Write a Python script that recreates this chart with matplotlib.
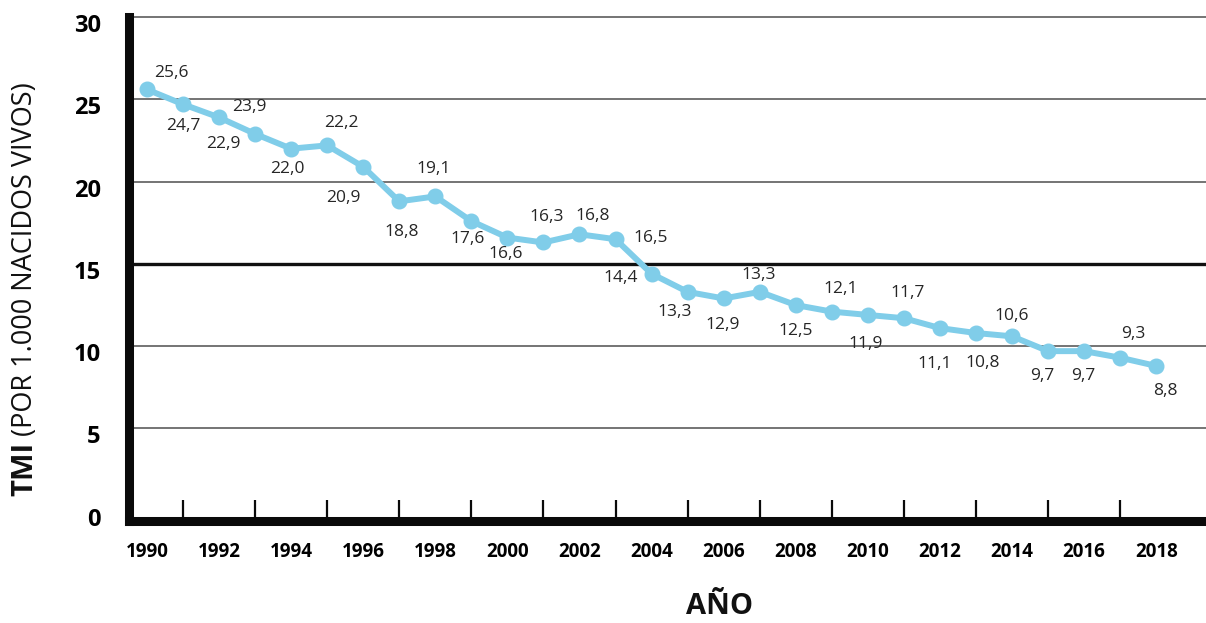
import matplotlib
matplotlib.use("Agg")
import matplotlib.pyplot as plt
from matplotlib.ticker import FixedLocator
from matplotlib.transforms import ScaledTranslation

plt.rcParams['font.family'] = ['Open Sans', 'DejaVu Sans']

# infant mortality rate per 1,000 live births
years = list(range(1990, 2019))
tmi = [25.6, 24.7, 23.9, 22.9, 22.0, 22.2, 20.9, 18.8, 19.1, 17.6,
       16.6, 16.3, 16.8, 16.5, 14.4, 13.3, 12.9, 13.3, 12.5, 12.1,
       11.9, 11.7, 11.1, 10.8, 10.6, 9.7, 9.7, 9.3, 8.8]
year_labels = list(range(1990, 2019, 2))
y_ticks = [0, 5, 10, 15, 20, 25, 30]

# where each value label sits relative to its point (pixels, x right / y down)
label_offsets = [(24, -16), (0, 22), (30, -10), (-32, 10), (-4, 20), (14, -22),
                 (-20, 31), (2, 31), (-2, -27), (-4, 18), (-2, 16), (3, -25),
                 (13, -18), (35, -1), (-31, 4), (-13, 20), (-1, 27), (-1, -17),
                 (0, 26), (9, -23), (-2, 29), (4, -25), (-5, 36), (7, 30),
                 (0, -20), (-6, 25), (-1, 25), (13, -24), (9, 25)]

line_color = '#80cde9'

fig = plt.figure(figsize=(12.06, 6.23), dpi=100)
ax = fig.add_axes([128.5 / 1206, 1 - 521 / 623, 1 - 128.5 / 1206, (521 - 17) / 623])

# horizontal reference lines, 15 drawn heavier
for level in y_ticks[1:]:
    if level == 15:
        ax.axhline(level, color='#111111', lw=2.4, zorder=1, clip_on=False)
    else:
        ax.axhline(level, color='#5c5c5c', lw=1.2, zorder=1, clip_on=False)

ax.plot(years, tmi, '-o', color=line_color, lw=4.3, markersize=10.5,
        solid_joinstyle='round', zorder=3)

for yr, v, (dx, dy) in zip(years, tmi, label_offsets):
    ax.annotate(f"{v:.1f}".replace('.', ','), (yr, v), xytext=(dx, -dy),
                textcoords='offset pixels', ha='center', va='center',
                fontsize=12.5, color='#262626', zorder=4)

ax.set_xlim(1989.49, 2019.38)
ax.set_ylim(-0.62, 30)

for side in ['top', 'right']:
    ax.spines[side].set_visible(False)
for side in ['left', 'bottom']:
    ax.spines[side].set_linewidth(6.5)
    ax.spines[side].set_color('#0a0a0a')
    ax.spines[side].set_capstyle('projecting')

ax.set_xticks(year_labels)
ax.set_xticklabels([str(y) for y in year_labels], fontsize=13.5, fontweight='bold')
ax.xaxis.set_minor_locator(FixedLocator(list(range(1991, 2018, 2))))
ax.tick_params(axis='x', which='major', length=0, pad=15)
ax.tick_params(axis='x', which='minor', direction='in', length=15, width=1.6,
               color='#0a0a0a')

ax.set_yticks(y_ticks)
ax.set_yticklabels([str(t) for t in y_ticks], fontsize=17, fontweight='bold')
ax.tick_params(axis='y', length=0, pad=20)
# y labels sit a little below their lines
shift = ScaledTranslation(0, -6 / 100, fig.dpi_scale_trans)
for lab in ax.get_yticklabels():
    lab.set_transform(lab.get_transform() + shift)

fig.text(720 / 1206, 1 - 607 / 623, 'AÑO', ha='center', va='center',
         fontsize=21, fontweight='bold', color='#111111')

# y-axis title: bold "TMI" followed by the regular unit text
t1 = fig.text(25 / 1206, 1 - 496 / 623, 'TMI', rotation=90, ha='center',
              va='bottom', fontsize=21, fontweight='bold', color='#111111')
fig.canvas.draw()
bb = t1.get_window_extent(fig.canvas.get_renderer())
fig.text(25 / 1206, (bb.y1 + 6) / fig.bbox.height, '(POR 1.000 NACIDOS VIVOS)',
         rotation=90, ha='center', va='bottom', fontsize=19.5, color='#111111')

fig.savefig('out.png', dpi=100, facecolor='white')
